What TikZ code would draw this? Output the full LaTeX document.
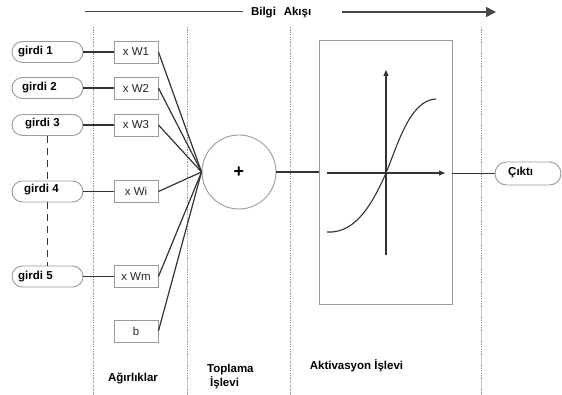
\documentclass[tikz,border=0pt]{standalone}
\usepackage{fontspec}
\setmainfont{Liberation Sans}
\usetikzlibrary{arrows.meta}
\definecolor{edgegray}{HTML}{9A9A9A}
\definecolor{linedark}{HTML}{333333}
\definecolor{dotgray}{HTML}{8A8A8A}
\begin{document}
\begin{tikzpicture}[x=1pt,y=-1pt,
  pill/.style={draw=edgegray, line width=0.9pt, rounded corners=10.5pt, minimum width=71pt, minimum height=21pt, inner sep=0pt},
  lbl/.style={font=\bfseries\fontsize{11.5}{14}\selectfont, text=black, inner sep=0pt},
  wbox/.style={draw=edgegray, line width=0.9pt, minimum width=44pt, minimum height=22pt, inner sep=0pt, font=\fontsize{11.5}{13}\selectfont, text=black!85},
  conn/.style={draw=linedark, line width=1.2pt},
  sep/.style={draw=dotgray, line width=0.8pt, dash pattern=on 1.2pt off 1.2pt}
]
\useasboundingbox (0,0) rectangle (562,395);

% separators
\draw[sep] (93,27) -- (93,395);
\draw[sep] (187,27) -- (187,395);
\draw[sep] (290,27) -- (290,395);
\draw[sep] (481,27) -- (481,395);

% top flow
\coordinate (fl1) at (85,11.5);
\coordinate (fl2) at (243,11.5);
\coordinate (fl3) at (342,12);
\coordinate (fl4) at (496,12);
\draw[draw=linedark!90, line width=1.6pt] (fl1) -- (fl2);
\draw[draw=linedark!90, line width=1.6pt, -{Triangle[length=10pt,width=10pt]}] (fl3) -- (fl4);
\node[lbl] (bilgi) at (263.5,12.5) {Bilgi};
\node[lbl] (akisi) at (297.5,12.5) {Akışı};

% inputs
\node[pill] (g1) at (47.5,52) {};
\node[pill] (g2) at (47.5,88) {};
\node[pill] (g3) at (47.5,125) {};
\node[pill] (g4) at (47.5,191.5) {};
\node[pill] (g5) at (47.5,276.5) {};
\node[lbl, anchor=west] (t1) at (18,52) {girdi 1};
\node[lbl, anchor=west] (t2) at (22,88) {girdi 2};
\node[lbl, anchor=west] (t3) at (25,124) {girdi 3};
\node[lbl, anchor=west] (t4) at (24,190) {girdi 4};
\node[lbl, anchor=west] (t5) at (18,277) {girdi 5};

\draw[draw=linedark, line width=1.1pt, dash pattern=on 7pt off 5pt] (g3.south) -- (g4.north);
\draw[draw=linedark, line width=1.1pt, dash pattern=on 7pt off 5pt] (g4.south) -- (g5.north);

% weights
\node[wbox] (w1) at (136,52) {x W1};
\node[wbox] (w2) at (136,88) {x W2};
\node[wbox] (w3) at (136,125) {x W3};
\node[wbox] (wi) at (136,191.5) {x Wi};
\node[wbox] (wm) at (136,276.5) {x Wm};
\node[wbox] (wb) at (136,331) {b};

\draw[conn] (g1) -- (w1);
\draw[conn] (g2) -- (w2);
\draw[conn] (g3) -- (w3);
\draw[conn] (g4) -- (wi);
\draw[conn] (g5) -- (wm);

% sum
\node[draw=edgegray, line width=0.9pt, circle, minimum size=74pt, inner sep=0pt, font=\bfseries\fontsize{18}{18}\selectfont] (sum) at (239,172) {+};

\draw[conn] (w1.east) -- (sum.west);
\draw[conn] (w2.east) -- (sum.west);
\draw[conn] (w3.east) -- (sum.west);
\draw[conn] (wi.east) -- (sum.west);
\draw[conn] (wm.east) -- (sum.west);
\draw[conn] (wb.east) -- (sum.west);

% activation
\node[draw=edgegray, line width=0.9pt, minimum width=133pt, minimum height=264pt, inner sep=0pt] (act) at (385.5,172.5) {};
\draw[conn] (sum.east) -- (sum.east -| act.west);
\coordinate (ax1) at (327,173);
\coordinate (ax2) at (445,173);
\coordinate (ay1) at (386,255);
\coordinate (ay2) at (386,70);
\draw[conn, -{Triangle[length=6pt,width=5pt]}] (ax1) -- (ax2);
\draw[conn, -{Triangle[length=6pt,width=5pt]}] (ay1) -- (ay2);
\draw[draw=linedark, line width=1.1pt] (327,232) .. controls (357,234) and (374,200) .. (386,173) .. controls (398,144) and (410,100) .. (436,99);

% output
\node[pill, minimum width=66pt, minimum height=23pt, rounded corners=11.5pt] (out) at (528,173.5) {};
\node[lbl, anchor=west] (tout) at (508,173) {Çıktı};
\draw[conn] (act.east |- out.west) -- (out.west);

% bottom labels
\node[lbl] (agir) at (133,378) {Ağırlıklar};
\node[lbl, anchor=north west, align=left] (topl) at (207,364) {Toplama\\\hspace*{3pt}İşlevi};
\node[lbl] (aktl) at (356.5,366) {Aktivasyon İşlevi};
\end{tikzpicture}
\end{document}
